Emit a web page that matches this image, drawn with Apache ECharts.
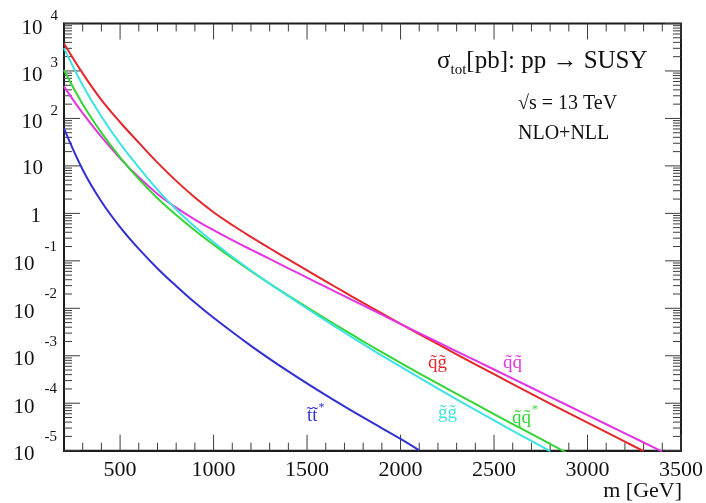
<!DOCTYPE html>
<html>
<head>
<meta charset="utf-8">
<script src="https://cdn.jsdelivr.net/npm/echarts@6/dist/echarts.min.js"></script>
<style>
  html, body { margin: 0; padding: 0; background: #ffffff; }
  #chart { width: 706px; height: 503px; }
</style>
</head>
<body>
<div id="chart"></div>
<script>
// Total NLO+NLL SUSY cross sections at sqrt(s) = 13 TeV: sigma in pb vs sparticle mass in GeV.

const massGrid = [200, 300, 400, 500, 600, 700, 800, 900, 1000, 1100, 1200, 1300, 1400, 1500,
                  1600, 1700, 1800, 1900, 2000, 2200, 2400, 2600, 2800, 3000, 3200];

// squark-gluino
const massQG  = massGrid.concat([3300]);
const sigmaQG = [3800, 891, 245.5, 83.2, 30.9, 11.75, 4.84, 2.16, 1.059, 0.569, 0.320, 0.184, 0.107, 0.0628,
                 0.0370, 0.0219, 0.0130, 7.82e-3, 4.71e-3, 1.75e-3, 6.61e-4, 2.54e-4, 9.86e-5, 3.89e-5, 1.55e-5,
                 9.77e-6];

// squark-squark
const massQQ  = massGrid.concat([3400]);
const sigmaQQ = [468, 128.8, 40.7, 14.45, 5.75, 2.57, 1.318, 0.741, 0.442, 0.272, 0.172, 0.110, 0.0697, 0.0443,
                 0.0282, 0.0180, 0.0115, 7.33e-3, 4.68e-3, 1.93e-3, 7.98e-4, 3.30e-4, 1.36e-4, 5.62e-5, 2.32e-5,
                 9.59e-6];

// squark-antisquark
const massQQbar  = [200, 300, 400, 500, 600, 700, 800, 900, 1000, 1100, 1200, 1300, 1400, 1500,
                    1600, 1700, 1800, 1900, 2000, 2200, 2400, 2600, 2800, 2900];
const sigmaQQbar = [1047, 199.5, 50.1, 15.1, 5.25, 2.09, 0.923, 0.437, 0.219, 0.1135, 0.0607, 0.0332, 0.0185, 0.0105,
                    6.00e-3, 3.47e-3, 2.02e-3, 1.19e-3, 7.08e-4, 2.60e-4, 9.66e-5, 3.63e-5, 1.40e-5, 8.51e-6];

// gluino pair
const massGG  = [200, 300, 400, 500, 600, 700, 800, 900, 1000, 1100, 1200, 1300, 1400, 1500,
                 1600, 1700, 1800, 1900, 2000, 2200, 2400, 2600, 2800];
const sigmaGG = [3020, 501, 109.6, 29.5, 9.33, 3.16, 1.202, 0.525, 0.2455, 0.1216, 0.0624, 0.0331, 0.0180, 9.89e-3,
                 5.50e-3, 3.09e-3, 1.76e-3, 1.01e-3, 5.89e-4, 2.04e-4, 7.24e-5, 2.63e-5, 9.77e-6];

// stop-antistop
const massTT  = [200, 300, 400, 500, 600, 700, 800, 900, 1000, 1200, 1400, 1600, 1800, 2000, 2100];
const sigmaTT = [61.7, 8.32, 1.778, 0.513, 0.178, 0.0692, 0.0295, 0.0132, 6.31e-3, 1.62e-3, 4.68e-4, 1.48e-4,
                 5.01e-5, 1.78e-5, 1.02e-5];

// axis ticks and decade labels
const xMajorTicks = [500, 1000, 1500, 2000, 2500, 3000, 3500];
const xMinorTicks = [300, 400, 600, 700, 800, 900, 1100, 1200, 1300, 1400, 1600, 1700, 1800, 1900,
                     2100, 2200, 2300, 2400, 2600, 2700, 2800, 2900, 3100, 3200, 3300, 3400];
const yDecadeExponents = [-5, -4, -3, -2, -1, 0, 1, 2, 3, 4];
const yMantissas = [2, 3, 4, 5, 6, 7, 8, 9];

const X_MIN = 200, X_MAX = 3500, Y_MIN = 1e-5, Y_MAX = 1e4;
const FONT = 'Liberation Serif';
const AXIS_COLOR = '#1c1c1c';
const TICK_COLOR = '#3c3c3c';
const MAJOR_LEN = 16, MINOR_LEN = 8;

const COLORS = {
  qg: '#e5262b',
  qq: '#e236e2',
  qqbar: '#34d634',
  gg: '#3fe3e3',
  tt: '#3030d4'
};

// tick list for the frame: [x, y, axis (0 = x, 1 = y), length]
const tickData = [];
xMajorTicks.forEach(v => tickData.push([v, Y_MIN, 0, MAJOR_LEN]));
xMinorTicks.forEach(v => tickData.push([v, Y_MIN, 0, MINOR_LEN]));
yDecadeExponents.forEach(n => tickData.push([X_MIN, Math.pow(10, n), 1, MAJOR_LEN]));
yDecadeExponents.slice(0, -1).forEach(n => {
  yMantissas.forEach(k => tickData.push([X_MIN, k * Math.pow(10, n), 1, MINOR_LEN]));
});

function pairs(xs, ys) { return xs.map((x, i) => [x, ys[i]]); }

// decade labels: "10" with a raised exponent; 10^1 and 10^0 are written plainly
function yLabel(value) {
  const n = Math.round(Math.log10(value));
  if (n === 1) return '{zc| }{c|10}';
  if (n === 0) return '{zc| }{c1|1}';
  if (n > 0) return '{zp| }{bp|10}{e|' + n + '}';
  return '{zn| }{bn|10}{en|-' + (-n) + '}';
}

const labelRich = {
  zp: { fontFamily: FONT, fontSize: 1, lineHeight: 30, verticalAlign: 'middle' },
  zn: { fontFamily: FONT, fontSize: 1, lineHeight: 43, verticalAlign: 'middle' },
  zc: { fontFamily: FONT, fontSize: 1, lineHeight: 27, verticalAlign: 'middle' },
  bp: { fontFamily: FONT, fontSize: 21, lineHeight: 24, verticalAlign: 'bottom', color: '#111' },
  bn: { fontFamily: FONT, fontSize: 21, lineHeight: 24, verticalAlign: 'bottom', padding: [0, 0, 7, 0], color: '#111' },
  e:  { fontFamily: FONT, fontSize: 15, lineHeight: 16, verticalAlign: 'top', padding: [0, 0, 0, 8], color: '#111' },
  en: { fontFamily: FONT, fontSize: 15, lineHeight: 16, verticalAlign: 'top', padding: [0, 1, 0, 10], color: '#111' },
  c:  { fontFamily: FONT, fontSize: 21, lineHeight: 22, verticalAlign: 'bottom', color: '#111', padding: [0, 15, 0, 0] },
  c1: { fontFamily: FONT, fontSize: 21, lineHeight: 22, verticalAlign: 'bottom', color: '#111', padding: [0, 17, 0, 0] }
};

function curve(name, xs, ys, color) {
  return {
    name: name, type: 'line', xAxisIndex: 0, yAxisIndex: 0,
    data: pairs(xs, ys), showSymbol: false, smooth: 0.4,
    lineStyle: { color: color, width: 2 }, clip: true, z: 3
  };
}

// inward ticks on all four sides of the frame, placed through the axis scales
function renderTick(params, api) {
  const v0 = api.value(0), v1 = api.value(1), axis = api.value(2), len = api.value(3);
  const style = { stroke: TICK_COLOR, lineWidth: 1 };
  if (axis === 0) {
    const b = api.coord([v0, Y_MIN]);
    const t = api.coord([v0, Y_MAX]);
    return {
      type: 'group',
      children: [
        { type: 'line', shape: { x1: b[0], y1: b[1], x2: b[0], y2: b[1] - len }, style: style },
        { type: 'line', shape: { x1: t[0], y1: t[1], x2: t[0], y2: t[1] + len }, style: style }
      ]
    };
  }
  const l = api.coord([X_MIN, v1]);
  const r = api.coord([X_MAX, v1]);
  return {
    type: 'group',
    children: [
      { type: 'line', shape: { x1: l[0], y1: l[1], x2: l[0] + len, y2: l[1] }, style: style },
      { type: 'line', shape: { x1: r[0], y1: r[1], x2: r[0] - len, y2: r[1] }, style: style }
    ]
  };
}

function curveLabel(left, top, text, color) {
  return {
    type: 'text', left: left, top: top, z: 10,
    style: {
      text: text, fill: color,
      rich: {
        n: { fontFamily: FONT, fontSize: 19, lineHeight: 20, fill: color, verticalAlign: 'bottom' },
        s: { fontFamily: FONT, fontSize: 12, lineHeight: 12, fill: color, verticalAlign: 'bottom', padding: [0, 0, 12, 1] }
      }
    }
  };
}

const chart = echarts.init(document.getElementById('chart'), null, { renderer: 'canvas' });

chart.setOption({
  animation: false,
  backgroundColor: '#ffffff',
  grid: {
    left: 64, right: 25, top: 23.5, bottom: 52.3,
    show: true, borderColor: AXIS_COLOR, borderWidth: 2, backgroundColor: 'transparent',
    containLabel: false, outerBoundsMode: 'none'
  },
  xAxis: {
    type: 'value', min: X_MIN, max: X_MAX, position: 'bottom',
    axisLine: { show: true, onZero: false, lineStyle: { color: AXIS_COLOR, width: 2 } },
    axisTick: { show: false },
    axisLabel: {
      show: true, customValues: xMajorTicks, margin: 9,
      fontFamily: FONT, fontSize: 22, color: '#111',
      formatter: v => String(v)
    },
    splitLine: { show: false }
  },
  yAxis: {
    type: 'log', logBase: 10, min: Y_MIN, max: Y_MAX, splitNumber: 9, interval: 1, position: 'left',
    axisLine: { show: true, onZero: false, lineStyle: { color: AXIS_COLOR, width: 2 } },
    axisTick: { show: false },
    axisLabel: { show: true, margin: 6, formatter: yLabel, rich: labelRich },
    splitLine: { show: false }
  },
  series: [
    {
      name: 'ticks', type: 'custom', renderItem: renderTick, data: tickData,
      encode: { x: 0, y: 1 }, silent: true, z: 2, clip: false
    },
    curve('qg', massQG, sigmaQG, COLORS.qg),
    curve('qq', massQQ, sigmaQQ, COLORS.qq),
    curve('qqbar', massQQbar, sigmaQQbar, COLORS.qqbar),
    curve('gg', massGG, sigmaGG, COLORS.gg),
    curve('tt', massTT, sigmaTT, COLORS.tt)
  ],
  graphic: [
    {
      type: 'text', left: 437, top: 49, z: 10,
      style: {
        text: '{a|σ}{s|tot}{a|[pb]: pp → SUSY}',
        rich: {
          a: { fontFamily: FONT, fontSize: 25, lineHeight: 26, verticalAlign: 'top', fill: '#111' },
          s: { fontFamily: FONT, fontSize: 15, lineHeight: 15, verticalAlign: 'top', padding: [14, 0, 0, 0], fill: '#111' }
        }
      }
    },
    {
      type: 'text', left: 518, top: 94, z: 10,
      style: { text: '√s = 13 TeV', fontFamily: FONT, fontSize: 20, fill: '#111' }
    },
    {
      type: 'text', left: 518, top: 124, z: 10,
      style: { text: 'NLO+NLL', fontFamily: FONT, fontSize: 20, fill: '#111' }
    },
    {
      type: 'text', right: 24, top: 480, z: 10,
      style: { text: 'm [GeV]', fontFamily: FONT, fontSize: 22, fill: '#111' }
    },
    curveLabel(428, 354, '{n|q̃g̃}', COLORS.qg),
    curveLabel(503, 354, '{n|q̃q̃}', COLORS.qq),
    curveLabel(438, 404, '{n|g̃g̃}', COLORS.gg),
    curveLabel(512, 404, '{n|q̃q̃}{s|*}', COLORS.qqbar),
    curveLabel(307, 402, '{n|t̃t̃}{s|*}', COLORS.tt)
  ]
});
</script>
</body>
</html>
